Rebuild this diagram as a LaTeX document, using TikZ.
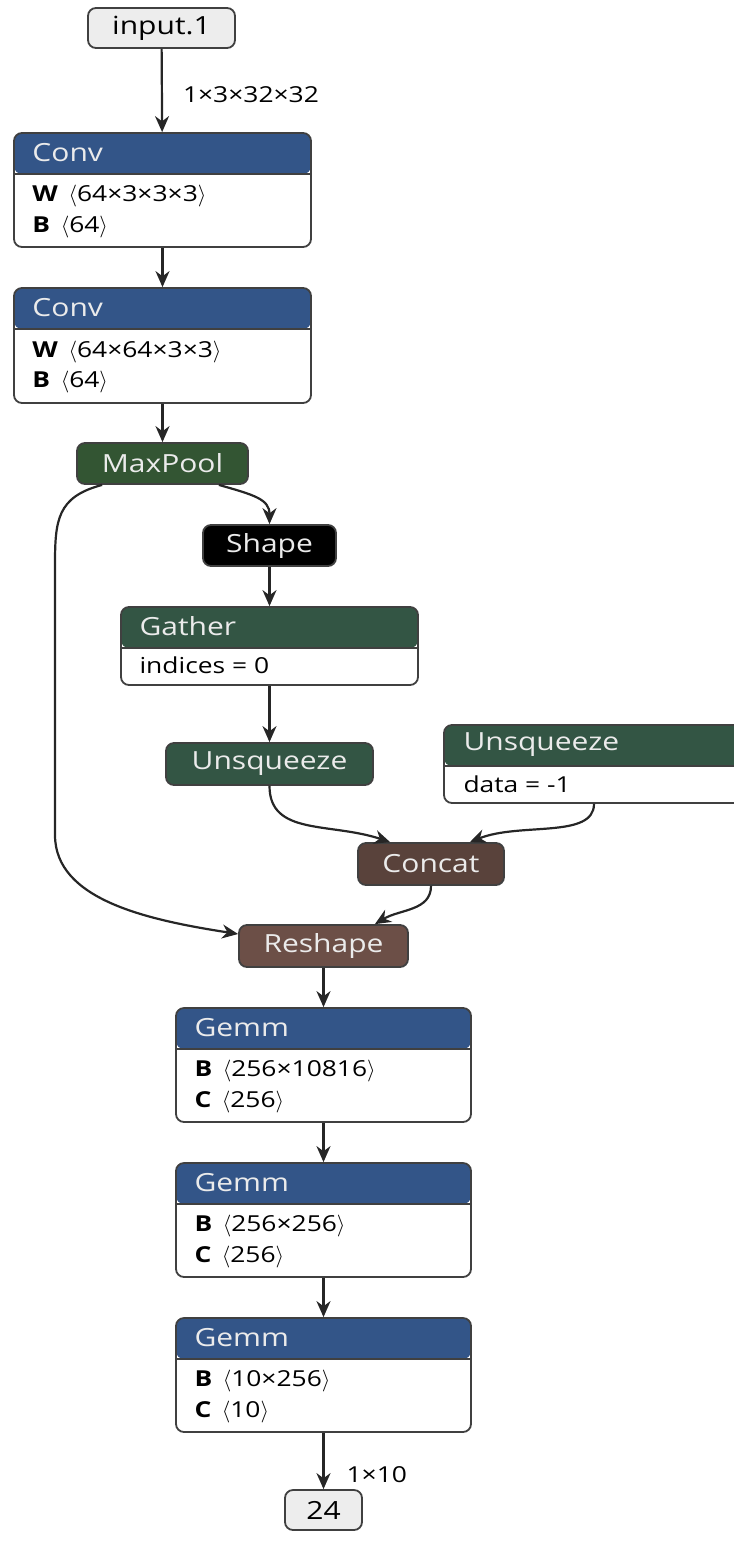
\documentclass[tikz,border=0pt]{standalone}
\usepackage{fontspec}
\setmainfont{Open Sans}[FakeStretch=1.2]
\usetikzlibrary{calc,arrows.meta}

\definecolor{layerblue}{RGB}{51,85,136}
\definecolor{poolgreen}{RGB}{51,85,51}
\definecolor{transgreen}{RGB}{51,85,68}
\definecolor{shapebrown}{RGB}{108,79,71}
\definecolor{tensorbrown}{RGB}{89,66,59}
\newcommand{\titlefont}{\fontsize{12.5}{14}\selectfont}
\newcommand{\attrfont}{\fontsize{11}{13}\selectfont}

\begin{document}
\begin{tikzpicture}[x=0.5pt,y=-0.5pt,
  box/.style={draw=black!75, line width=0.9pt, rounded corners=4pt, fill=white, inner sep=0pt},
  head/.style={box, path picture={
      \fill[#1] (path picture bounding box.north west) rectangle ([yshift=-20.5pt]path picture bounding box.north east);
      \draw[black!75, line width=0.8pt] ([yshift=-20.5pt]path picture bounding box.north west) -- ([yshift=-20.5pt]path picture bounding box.north east);}},
  op/.style={box, fill=#1, text=white!92!black, font=\titlefont},
  io/.style={box, fill=black!7, font=\titlefont},
  title/.style={anchor=west, inner sep=0pt, text=white!92!black, font=\titlefont},
  attr/.style={anchor=west, inner sep=0pt, font=\attrfont},
  flow/.style={-{Stealth[length=8pt,width=7pt]}, line width=1.1pt, black!85},
  dims/.style={anchor=west, inner sep=0pt, font=\attrfont, text=black}]
  \clip (0,0) rectangle (734,1555);

  % Eingang und Faltungen
  \node[io, minimum width=73.5pt, minimum height=20pt] (input) at (161.5,28) {input.1};

  \node[head=layerblue, minimum width=148.5pt, minimum height=57pt] (conv1) at (162.5,190) {};
  \node[title] (conv1-t) at ($(conv1.north west)+(19,20.5)$) {Conv};
  \node[attr] (conv1-w) at ($(conv1.north west)+(19,64)$) {\textbf{W}\, $\langle$64×3×3×3$\rangle$};
  \node[attr] (conv1-b) at ($(conv1.north west)+(19,95)$) {\textbf{B}\, $\langle$64$\rangle$};

  \node[head=layerblue, minimum width=148.5pt, minimum height=57.5pt] (conv2) at (162.5,345.5) {};
  \node[title] (conv2-t) at ($(conv2.north west)+(19,20.5)$) {Conv};
  \node[attr] (conv2-w) at ($(conv2.north west)+(19,65)$) {\textbf{W}\, $\langle$64×64×3×3$\rangle$};
  \node[attr] (conv2-b) at ($(conv2.north west)+(19,95)$) {\textbf{B}\, $\langle$64$\rangle$};

  \node[op=poolgreen, minimum width=85.5pt, minimum height=20.5pt] (maxpool) at (162.5,463.5) {MaxPool};

  % Formzweig
  \node[op=black, minimum width=66.5pt, minimum height=20.5pt] (shape) at (269.5,545.5) {Shape};

  \node[head=transgreen, minimum width=148.5pt, minimum height=39pt] (gather) at (269.5,646) {};
  \node[title] (gather-t) at ($(gather.north west)+(19,20.5)$) {Gather};
  \node[attr] (gather-i) at ($(gather.north west)+(19,59)$) {indices = 0};

  \node[op=transgreen, minimum width=103.5pt, minimum height=21pt] (unsq1) at (269.5,764) {Unsqueeze};

  \node[head=transgreen, minimum width=150pt, minimum height=39pt] (unsq2) at (594,764) {};
  \node[title] (unsq2-t) at ($(unsq2.north west)+(20,20.5)$) {Unsqueeze};
  \node[attr] (unsq2-d) at ($(unsq2.north west)+(20,60)$) {data = -1};

  \node[op=tensorbrown, minimum width=73pt, minimum height=21pt] (concat) at (431,864) {Concat};
  \node[op=shapebrown, minimum width=84.5pt, minimum height=21pt] (reshape) at (323.5,946) {Reshape};

  % Vollverbundene Schichten
  \node[head=layerblue, minimum width=147.5pt, minimum height=57pt] (gemm1) at (323.5,1065) {};
  \node[title] (gemm1-t) at ($(gemm1.north west)+(19,20.5)$) {Gemm};
  \node[attr] (gemm1-b) at ($(gemm1.north west)+(19,64)$) {\textbf{B}\, $\langle$256×10816$\rangle$};
  \node[attr] (gemm1-c) at ($(gemm1.north west)+(19,95)$) {\textbf{C}\, $\langle$256$\rangle$};

  \node[head=layerblue, minimum width=147.5pt, minimum height=57pt] (gemm2) at (323.5,1220) {};
  \node[title] (gemm2-t) at ($(gemm2.north west)+(19,20.5)$) {Gemm};
  \node[attr] (gemm2-b) at ($(gemm2.north west)+(19,64)$) {\textbf{B}\, $\langle$256×256$\rangle$};
  \node[attr] (gemm2-c) at ($(gemm2.north west)+(19,95)$) {\textbf{C}\, $\langle$256$\rangle$};

  \node[head=layerblue, minimum width=147.5pt, minimum height=57pt] (gemm3) at (323.5,1375) {};
  \node[title] (gemm3-t) at ($(gemm3.north west)+(19,20.5)$) {Gemm};
  \node[attr] (gemm3-b) at ($(gemm3.north west)+(19,64)$) {\textbf{B}\, $\langle$10×256$\rangle$};
  \node[attr] (gemm3-c) at ($(gemm3.north west)+(19,95)$) {\textbf{C}\, $\langle$10$\rangle$};

  \node[io, minimum width=38.5pt, minimum height=20pt] (output) at (323.5,1510) {24};

  % Kanten
  \coordinate (skip-top) at (55,565);
  \coordinate (skip-bot) at (55,835);
  \draw[flow] (input) -- (conv1) node[dims, pos=0.55, xshift=10pt] {1×3×32×32};
  \draw[flow] (conv1) -- (conv2);
  \draw[flow] (conv2) -- (maxpool);
  \draw[flow] ($(maxpool.south east)+(-30,0)$) .. controls +(35,10) and +(0,-25) .. (shape.north);
  \draw[flow] (shape) -- (gather);
  \draw[flow] (gather) -- (unsq1);
  \draw[flow] (unsq1.south) .. controls +(0,50) and +(-60,-20) .. ($(concat.north west)+(33,0)$);
  \draw[flow] (unsq2.south) .. controls +(0,35) and +(50,-20) .. ($(concat.north east)+(-35,0)$);
  \draw[flow] (concat.south) .. controls +(0,25) and +(25,-15) .. ($(reshape.north east)+(-34,0)$);
  \draw[flow] ($(maxpool.south west)+(26,0)$) .. controls +(-45,12) and +(0,-45) .. (skip-top)
    -- (skip-bot) .. controls +(0,65) and +(-90,-14) .. ($(reshape.west)+(0,-12)$);
  \draw[flow] (reshape) -- (gemm1);
  \draw[flow] (gemm1) -- (gemm2);
  \draw[flow] (gemm2) -- (gemm3);
  \draw[flow] (gemm3) -- (output) node[dims, pos=0.74, xshift=11pt] {1×10};
\end{tikzpicture}
\end{document}
